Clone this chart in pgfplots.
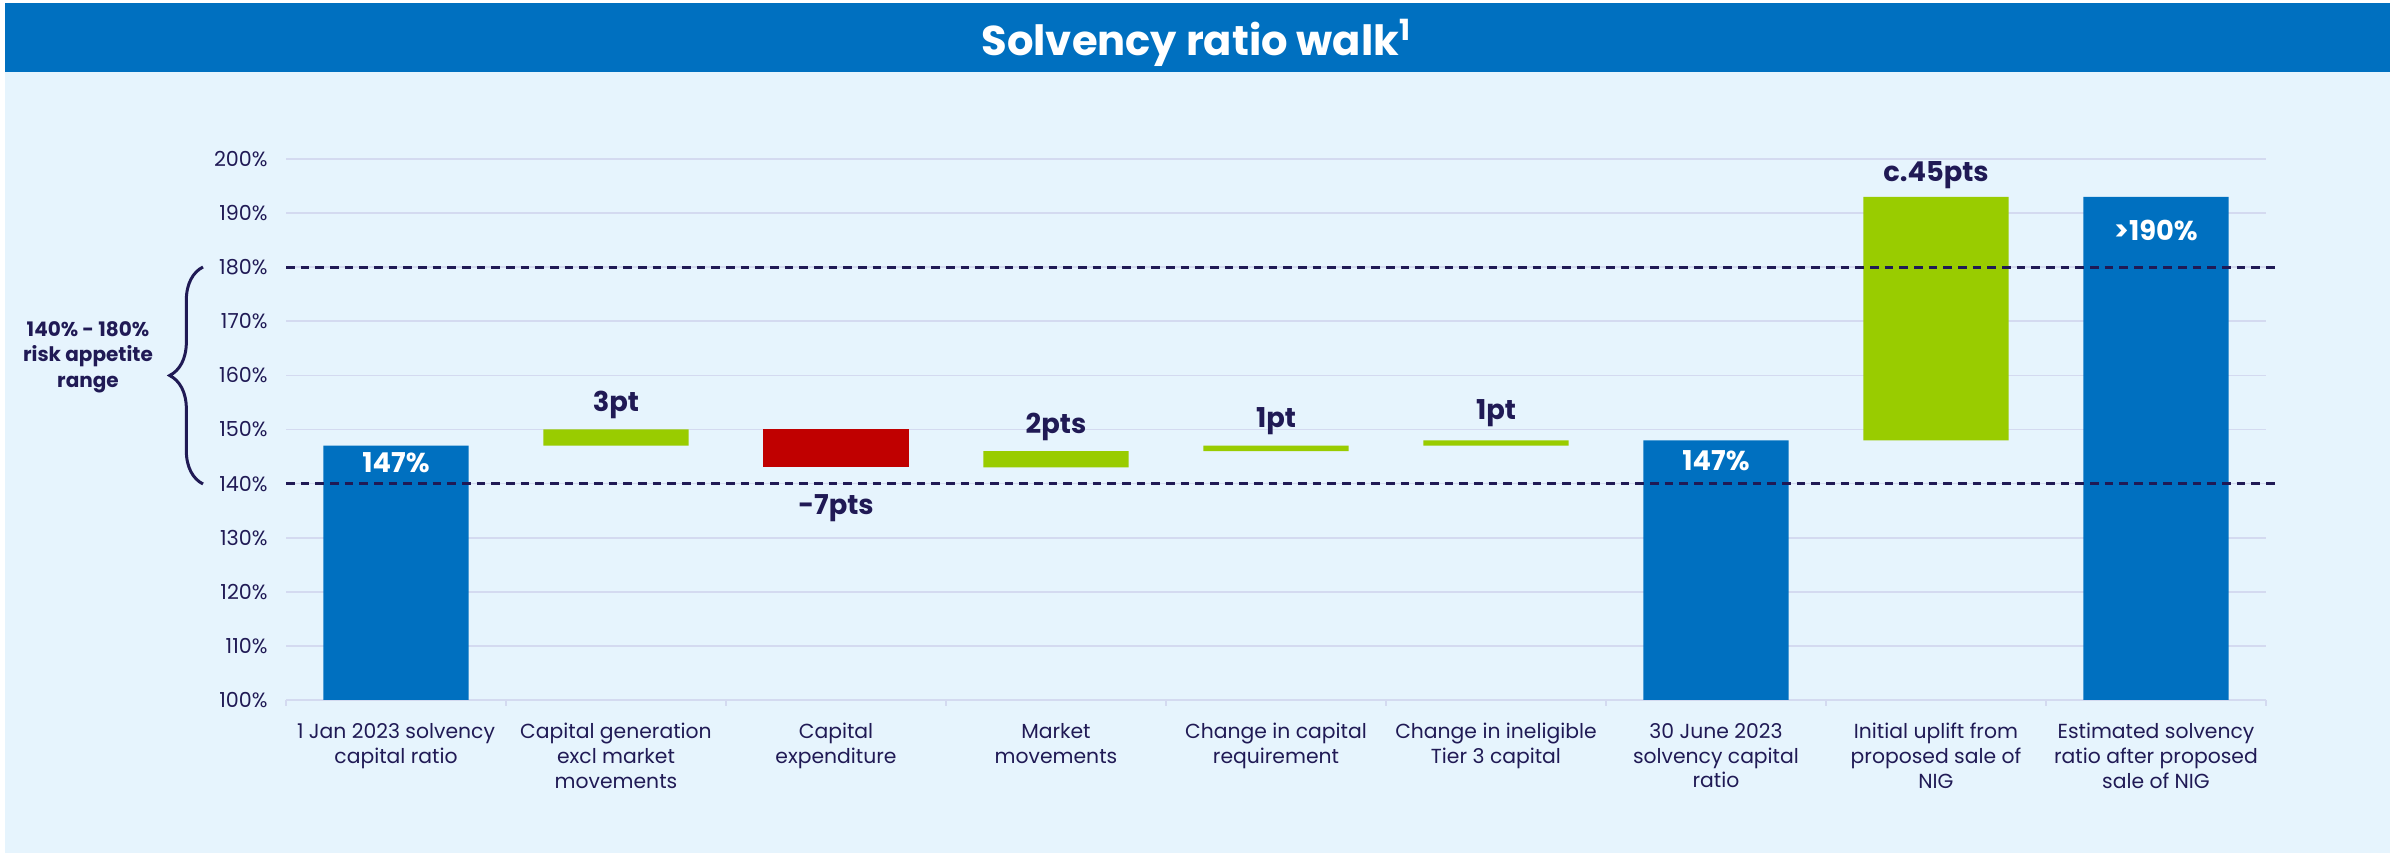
\documentclass[border=0pt]{standalone}
\usepackage{pgfplots}
\pgfplotsset{compat=1.18}
\usepackage{fontspec}
\setmainfont{Poppins}
\usetikzlibrary{decorations.pathreplacing}
\definecolor{titleblue}{HTML}{0070C0}
\definecolor{panel}{HTML}{E6F4FD}
\definecolor{navy}{HTML}{201A55}
\definecolor{gridc}{HTML}{D4DAF0}
\definecolor{barblue}{HTML}{0070C0}
\definecolor{bargreen}{HTML}{99CC00}
\definecolor{barred}{HTML}{C00000}
\tikzset{vlab/.style={font=\bfseries\fontsize{8.2pt}{9.5pt}\selectfont}}
\begin{document}
\begin{tikzpicture}
% canvas: 2394 x 856 px at 0.3pt per px
\fill[white] (0,0) rectangle (718.2pt,256.8pt);
\fill[panel] (1.5pt,0.9pt) rectangle (717pt,235.2pt);
\fill[titleblue] (1.5pt,235.2pt) rectangle (717pt,255.9pt);
\node[text=white, font=\bfseries\fontsize{12.5pt}{14pt}\selectfont] at (359pt,244pt) {Solvency ratio walk\textsuperscript{1}};

\begin{axis}[
  at={(85.8pt,46.8pt)}, anchor=south west,
  scale only axis, width=594pt, height=162.3pt,
  ybar stacked, bar width=0.66,
  xmin=-0.5, xmax=8.5, ymin=100, ymax=200,
  ytick={100,110,...,200},
  yticklabel={\pgfmathprintnumber{\tick}\%},
  /pgf/number format/assume math mode=true,
  yticklabel style={font=\fontsize{6.2pt}{7pt}\selectfont, text=navy, xshift=-2pt},
  ymajorgrids, grid style={gridc, line width=0.5pt},
  axis line style={draw=none},
  major tick length=0pt,
  xtick pos=left,
  xtick={0,...,8},
  xticklabels={{1 Jan 2023 solvency\\capital ratio},
    {Capital generation\\excl market\\movements},
    {Capital\\expenditure},
    {Market\\movements},
    {Change in capital\\requirement},
    {Change in ineligible\\Tier 3 capital},
    {30 June 2023\\solvency capital\\ratio},
    {Initial uplift from\\proposed sale of\\NIG},
    {Estimated solvency\\ratio after proposed\\sale of NIG}},
  xticklabel style={font=\fontsize{6.1pt}{7.4pt}\selectfont, text=navy, align=center, yshift=-3.5pt},
  extra x ticks={-0.5,0.5,...,8.5},
  extra x tick labels={},
  extra x tick style={major tick length=1.8pt, tick align=outside, tick style={gridc, line width=0.6pt}},
  clip=false,
]
% invisible base, then blue totals, green increases, red decrease
\addplot[fill=none, draw=none] coordinates {(0,100) (1,147) (2,143) (3,143) (4,146) (5,147) (6,100) (7,148) (8,100)};
\addplot[fill=barblue, draw=none] coordinates {(0,47) (1,0) (2,0) (3,0) (4,0) (5,0) (6,48) (7,0) (8,93)};
\addplot[fill=bargreen, draw=none] coordinates {(0,0) (1,3) (2,0) (3,3) (4,1) (5,1) (6,0) (7,45) (8,0)};
\addplot[fill=barred, draw=none] coordinates {(0,0) (1,0) (2,7) (3,0) (4,0) (5,0) (6,0) (7,0) (8,0)};

\coordinate (d1a) at (axis cs:-0.5,140);
\coordinate (d1b) at (axis cs:8.56,140);
\coordinate (d2a) at (axis cs:-0.5,180);
\coordinate (d2b) at (axis cs:8.56,180);
\coordinate (l0) at (axis cs:0,143.8);
\coordinate (l1) at (axis cs:1,154.6);
\coordinate (l2) at (axis cs:2,135.5);
\coordinate (l3) at (axis cs:3,150.4);
\coordinate (l4) at (axis cs:4,151.5);
\coordinate (l5) at (axis cs:5,153.0);
\coordinate (l6) at (axis cs:6,144.2);
\coordinate (l7) at (axis cs:7,197.0);
\coordinate (l8) at (axis cs:8,186.8);
\end{axis}

\draw[navy, line width=0.9pt, dash pattern=on 2.6pt off 1.8pt] (d1a) -- (d1b);
\draw[navy, line width=0.9pt, dash pattern=on 2.6pt off 1.8pt] (d2a) -- (d2b);
\node[vlab, text=white] at (l0) {147\%};
\node[vlab, text=navy] at (l1) {3pt};
\node[vlab, text=navy] at (l2) {-7pts};
\node[vlab, text=navy] at (l3) {2pts};
\node[vlab, text=navy] at (l4) {1pt};
\node[vlab, text=navy] at (l5) {1pt};
\node[vlab, text=white] at (l6) {147\%};
\node[vlab, text=navy] at (l7) {c.45pts};
\node[vlab, text=white] at (l8) {>190\%};

\draw[navy, line width=0.9pt, decorate, decoration={brace, amplitude=10pt}] (60.9pt,111.6pt) -- (60.9pt,176.7pt);
\node[text=navy, align=center, font=\bfseries\fontsize{6pt}{7.6pt}\selectfont] at (26.4pt,149.7pt) {140\% - 180\%\\risk appetite\\range};
\end{tikzpicture}
\end{document}
